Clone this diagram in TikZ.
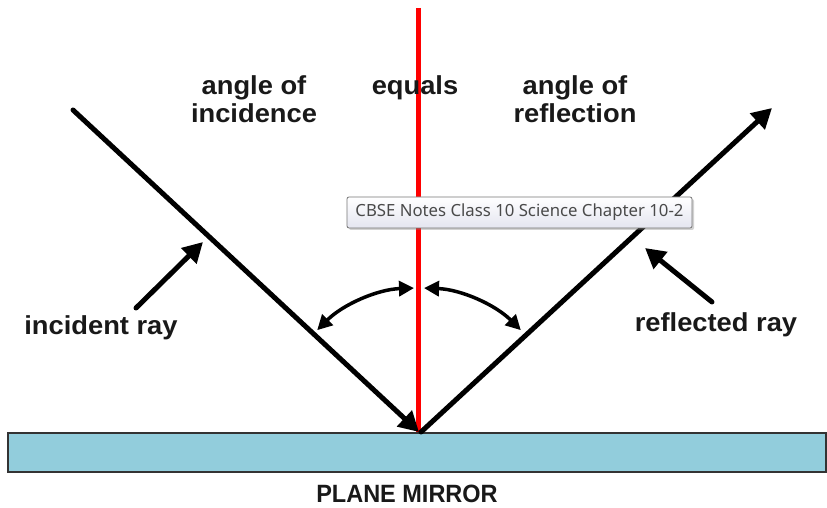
\documentclass[tikz,border=0pt]{standalone}
\usepackage{fontspec}
\setmainfont{Liberation Sans}
\newfontfamily\tipfont{Noto Sans}
\usetikzlibrary{arrows.meta,shadows}
\definecolor{mirrorblue}{HTML}{92CDDC}
\definecolor{mirroredge}{HTML}{333333}
\definecolor{tipedge}{HTML}{767676}
\definecolor{tiptext}{HTML}{4A4A4A}
\definecolor{tipbottom}{HTML}{E4E5F0}
\tikzset{
  ray/.style={line width=5pt, line cap=round, -{Triangle[length=20pt,width=21pt]}},
  pointer/.style={line width=5pt, line cap=round, -{Triangle[length=20pt,width=21pt]}},
  anglearc/.style={line width=3.5pt, {Triangle[length=15pt,width=15pt]}-{Triangle[length=15pt,width=15pt]}},
  lbl/.style={font=\fontsize{26}{30}\selectfont\bfseries, text=black!90, inner sep=0pt, anchor=base},
  normalline/.style={draw=red, line width=5pt},
  tipbox/.style={draw=tipedge, line width=0.8pt, rounded corners=2pt, top color=white, bottom color=tipbottom,
    drop shadow={shadow xshift=2pt, shadow yshift=-2pt, opacity=0.35}, minimum width=345pt, minimum height=31pt,
    inner sep=0pt, font=\tipfont, text=tiptext}
}
\begin{document}
\begin{tikzpicture}[x=1pt,y=1pt]
\useasboundingbox (0,0) rectangle (827,508);
\fill[white] (0,0) rectangle (827,508);
% mirror
\node[draw=mirroredge, fill=mirrorblue, line width=2pt, minimum width=818pt, minimum height=39pt, inner sep=0pt] (mirror) at (416.5,55.5) {};
\node[font=\fontsize{25}{28}\selectfont\bfseries, text=black!90, inner sep=0pt, anchor=base] (pm) at (407,5) {\scalebox{0.94}[1]{PLANE MIRROR}};
% key points
\coordinate (O) at (419,76);
\coordinate (top) at (418,500);
\coordinate (istart) at (73,398);
\coordinate (rend) at (772,400);
\coordinate (rstart) at (421,76);
% normal
\draw[normalline] (top) -- (418,76);
% rays
\draw[ray] (istart) -- (O);
\draw[ray] (rstart) -- (rend);
% angle arcs
\draw[anglearc] ([shift={(135:144)}]O) arc[start angle=135, end angle=92, radius=144];
\draw[anglearc] ([shift={(88:144)}]O) arc[start angle=88, end angle=45, radius=144];
% labels
\node[lbl] (l1) at (254,413) {\scalebox{1.05}[1]{angle of}};
\node[lbl] (l2) at (254,385) {\scalebox{1.05}[1]{incidence}};
\node[lbl] (l3) at (415,413) {\scalebox{1.05}[1]{equals}};
\node[lbl] (l4) at (575,413) {\scalebox{1.05}[1]{angle of}};
\node[lbl] (l5) at (575,385) {\scalebox{1.05}[1]{reflection}};
\node[lbl] (inc) at (101,173) {\scalebox{1.05}[1]{incident ray}};
\node[lbl] (ref) at (716,176) {\scalebox{1.05}[1]{reflected ray}};
% pointers
\coordinate (pi1) at (136,200);
\coordinate (pi2) at (203,266);
\coordinate (pr1) at (712,206);
\coordinate (pr2) at (645,260);
\draw[pointer] (pi1) -- (pi2);
\draw[pointer] (pr1) -- (pr2);
% tooltip
\node[tipbox] (tip) at (519.5,295.5) {\resizebox{328pt}{!}{CBSE Notes Class 10 Science Chapter 10-2}};
\end{tikzpicture}
\end{document}
